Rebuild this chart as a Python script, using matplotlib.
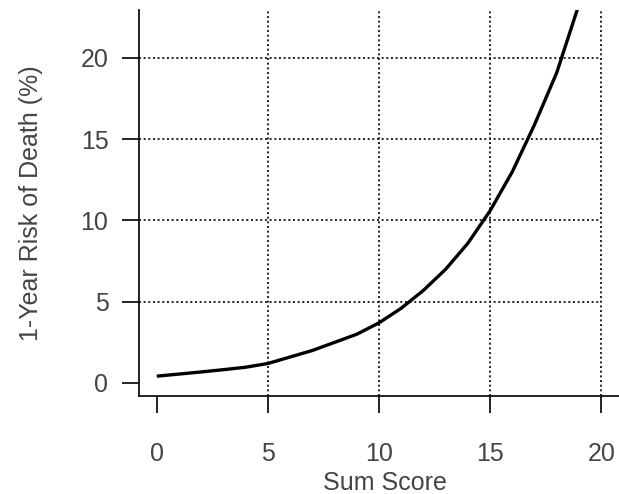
import matplotlib
matplotlib.use("Agg")
import matplotlib.pyplot as plt
import numpy as np

sum_score = [0, 1, 2, 3, 4, 5, 6, 7, 8, 9, 10, 11, 12, 13, 14, 15, 16, 17, 18, 19]
risk_pct = [0.42, 0.55, 0.68, 0.82, 0.97, 1.2, 1.6, 2.0, 2.5, 3.0, 3.7, 4.6, 5.7,
            7.0, 8.6, 10.6, 13.0, 15.9, 19.1, 23.3]
x_ticks = [0, 5, 10, 15, 20]
y_ticks = [0, 5, 10, 15, 20]
grid_x = [5, 10, 15, 20]
grid_y = [5, 10, 15, 20]

plt.rcParams['font.family'] = ['Liberation Sans', 'DejaVu Sans']
txt = '#444444'
fs = 18

fig = plt.figure(figsize=(6.19, 4.94), dpi=100)
ax = fig.add_axes([139/619, 1-396/494, 1-139/619, (396-10)/494])

xmin, xmax = -0.8, 20.8
ymin, ymax = -0.8, 22.95
ax.set_xlim(xmin, xmax)
ax.set_ylim(ymin, ymax)

ax.hlines(grid_y, xmin, 20, colors='#222222', linestyles=(0, (1.0, 1.4)), linewidth=1.4, zorder=1)
ax.vlines(grid_x, ymin, ymax, colors='#222222', linestyles=(0, (1.0, 1.4)), linewidth=1.4, zorder=1)

ax.plot(sum_score, risk_pct, color='black', linewidth=2.4, solid_capstyle='butt',
        solid_joinstyle='round', zorder=3)

for s in ['top', 'right']:
    ax.spines[s].set_visible(False)
for s in ['left', 'bottom']:
    ax.spines[s].set_linewidth(1.3)
    ax.spines[s].set_color('#111111')

ax.set_xticks(x_ticks)
ax.set_yticks(y_ticks)
ax.tick_params(axis='both', direction='out', length=12, width=1.3, color='#111111',
               labelsize=fs, labelcolor=txt)
ax.tick_params(axis='x', pad=21)
ax.tick_params(axis='y', pad=10)

ax.set_xlabel('Sum Score', fontsize=fs, color=txt, va='center')
ax.xaxis.set_label_coords((385-139)/480, (396-483)/386)
ax.set_ylabel('1-Year Risk of Death (%)', fontsize=fs, color=txt, va='center')
ax.yaxis.set_label_coords((31-139)/480, 0.5)

fig.savefig('out.png', dpi=100)
